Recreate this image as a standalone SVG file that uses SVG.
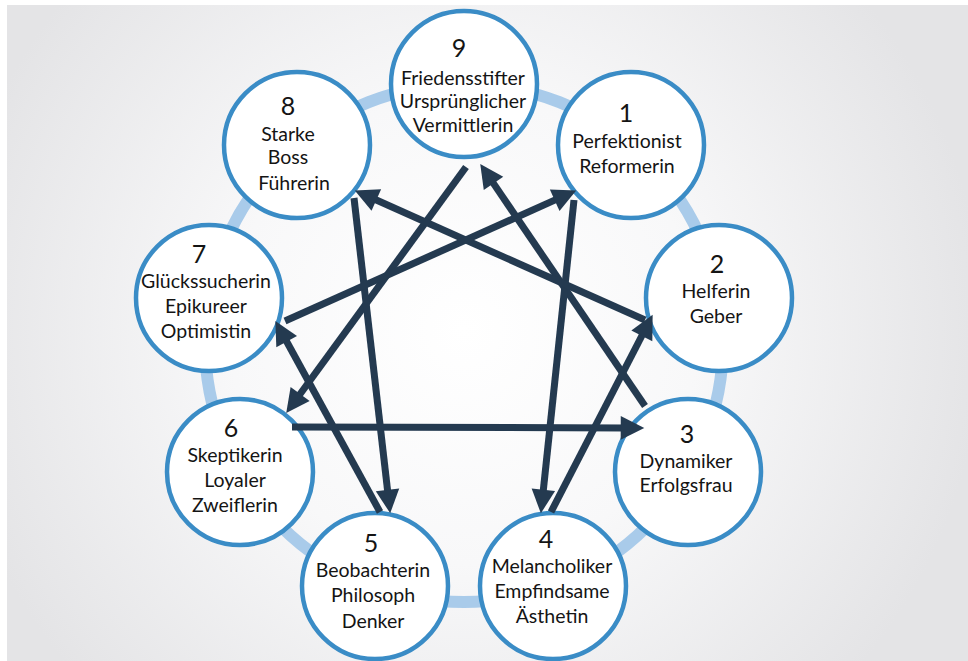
<svg xmlns="http://www.w3.org/2000/svg" width="968" height="661" viewBox="0 0 968 661">
  <defs>
    <radialGradient id="bg" cx="464" cy="330" r="520" gradientUnits="userSpaceOnUse">
      <stop offset="0" stop-color="#ffffff"/>
      <stop offset="0.45" stop-color="#f8f8f9"/>
      <stop offset="1" stop-color="#e4e4e6"/>
    </radialGradient>
    <marker id="ah" markerUnits="userSpaceOnUse" markerWidth="30" markerHeight="30" refX="0" refY="0" viewBox="-6 -14 28 28" orient="auto" overflow="visible">
      <path d="M-4,-11 L18,0 L-4,11 Z" fill="#243a50"/>
    </marker>
    <style>
      .ring { fill: none; stroke: #a9cbea; stroke-width: 12; }
      .node circle { fill: #ffffff; stroke: #3a8cc6; stroke-width: 4.5; }
      .num { font-family: Lato, "Open Sans", "Liberation Sans", sans-serif; font-size: 25px; fill: #141414; text-anchor: middle; }
      .lbl { font-family: Lato, "Open Sans", "Liberation Sans", sans-serif; font-size: 19.5px; fill: #141414; text-anchor: middle; }
      .conn line { stroke: #243a50; stroke-width: 7; fill: none; marker-end: url(#ah); }
    </style>
  </defs>
  <rect x="0" y="0" width="968" height="661" fill="#ffffff"/>
  <rect x="7" y="5" width="961" height="656" fill="url(#bg)"/>
  <circle class="ring" cx="464" cy="343" r="259"/>

  <g id="node9" class="node">
    <circle cx="464" cy="84" r="73"/>
    <text class="num" x="459" y="57">9</text>
    <text class="lbl" x="463" y="85">Friedensstifter</text>
    <text class="lbl" x="463" y="108">Ursprünglicher</text>
    <text class="lbl" x="463" y="132">Vermittlerin</text>
  </g>
  <g id="node1" class="node">
    <circle cx="631" cy="145" r="73"/>
    <text class="num" x="626" y="122">1</text>
    <text class="lbl" x="627" y="148">Perfektionist</text>
    <text class="lbl" x="627" y="173">Reformerin</text>
  </g>
  <g id="node2" class="node">
    <circle cx="719" cy="298" r="73"/>
    <text class="num" x="717" y="273">2</text>
    <text class="lbl" x="716" y="298">Helferin</text>
    <text class="lbl" x="716" y="323">Geber</text>
  </g>
  <g id="node3" class="node">
    <circle cx="688" cy="472" r="73"/>
    <text class="num" x="687" y="443">3</text>
    <text class="lbl" x="686" y="468">Dynamiker</text>
    <text class="lbl" x="686" y="492">Erfolgsfrau</text>
  </g>
  <g id="node4" class="node">
    <circle cx="553" cy="586" r="73"/>
    <text class="num" x="546" y="548">4</text>
    <text class="lbl" x="552" y="573">Melancholiker</text>
    <text class="lbl" x="552" y="598">Empfindsame</text>
    <text class="lbl" x="552" y="623">Ästhetin</text>
  </g>
  <g id="node5" class="node">
    <circle cx="375" cy="586" r="73"/>
    <text class="num" x="371" y="552">5</text>
    <text class="lbl" x="373" y="577">Beobachterin</text>
    <text class="lbl" x="373" y="602">Philosoph</text>
    <text class="lbl" x="373" y="628">Denker</text>
  </g>
  <g id="node6" class="node">
    <circle cx="240" cy="472" r="73"/>
    <text class="num" x="231" y="437">6</text>
    <text class="lbl" x="235" y="462">Skeptikerin</text>
    <text class="lbl" x="235" y="487">Loyaler</text>
    <text class="lbl" x="235" y="512">Zweiflerin</text>
  </g>
  <g id="node7" class="node">
    <circle cx="209" cy="298" r="73"/>
    <text class="num" x="199" y="263">7</text>
    <text class="lbl" x="206" y="288">Glückssucherin</text>
    <text class="lbl" x="206" y="313">Epikureer</text>
    <text class="lbl" x="206" y="338">Optimistin</text>
  </g>
  <g id="node8" class="node">
    <circle cx="297" cy="145" r="73"/>
    <text class="num" x="288" y="115">8</text>
    <text class="lbl" x="288" y="141">Starke</text>
    <text class="lbl" x="288" y="164">Boss</text>
    <text class="lbl" x="294" y="190">Führerin</text>
  </g>

  <g id="connectors" class="conn">
    <line x1="466" y1="167" x2="297.6" y2="397.5"/>
    <line x1="292" y1="427" x2="625" y2="427.9"/>
    <line x1="645" y1="406" x2="491.1" y2="179.9"/>
    <line x1="574" y1="200" x2="542.9" y2="494.1"/>
    <line x1="551" y1="512" x2="643.8" y2="332"/>
    <line x1="645" y1="320" x2="372.4" y2="198.3"/>
    <line x1="354" y1="198" x2="388" y2="494.1"/>
    <line x1="380" y1="512" x2="284.6" y2="337.8"/>
    <line x1="285" y1="321" x2="558.6" y2="198.4"/>
  </g>
</svg>
